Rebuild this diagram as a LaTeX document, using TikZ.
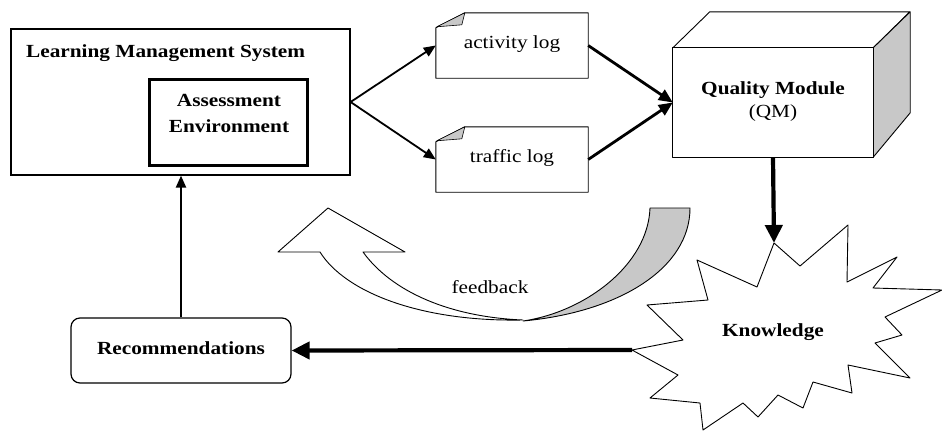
\documentclass[tikz,border=0pt]{standalone}
\usepackage{fontspec}
\setmainfont{Liberation Serif}[FakeStretch=1.15]
\usetikzlibrary{arrows.meta,calc}

\definecolor{shade}{RGB}{200,200,200}

\tikzset{
  txt/.style={font=\fontsize{18.5}{26}\selectfont, inner sep=0pt, align=center},
  btxt/.style={txt, font=\fontsize{18.5}{26}\selectfont\bfseries},
  box/.style={draw, line width=1.2pt, inner sep=0pt},
  outline/.style={draw, line width=0.9pt, line join=round},
  thinarr/.style={line width=1.8pt, -{Triangle[length=12pt,width=10pt]}},
  midarr/.style={line width=2.8pt, -{Triangle[length=14pt,width=12pt]}},
  bigarr/.style={line width=4.2pt, -{Triangle[length=18pt,width=17pt]}},
}

\begin{document}
\begin{tikzpicture}[x=1pt,y=-1pt]
\useasboundingbox (0,0) rectangle (942,434);

% Learning Management System with the assessment environment inside
\node[box, minimum width=339pt, minimum height=146pt] (lms) at (180.5,102) {};
\node[btxt, anchor=base west] (lmstitle) at (26,57) {Learning Management System};
\node[draw, line width=3pt, minimum width=158pt, minimum height=86pt, inner sep=0pt] (ae) at (228.5,122.5) {};
\node[btxt] (aetext) at (229,113) {Assessment\\Environment};

% log documents with folded corner
\foreach \n/\cy/\t in {alog/45.5/activity log, tlog/159.5/traffic log}{
  \node[minimum width=152pt, minimum height=65pt, inner sep=0pt] (\n) at (512,\cy) {};
  \draw[outline, fill=white] (\n.south west) -- ($(\n.north west)+(0,15)$)
     -- ($(\n.north west)+(29,0)$) -- (\n.north east) -- (\n.south east) -- cycle;
  \draw[outline, line width=0.6pt, fill=shade] ($(\n.north west)+(1,14)$)
     -- ($(\n.north west)+(29,0)$) -- ($(\n.north west)+(26,12)$) -- cycle;
  \node[txt] at ($(\n.center)+(0,-1.5)$) {\t};
}

% Quality Module drawn as a box in perspective
\node[minimum width=200pt, minimum height=109pt, inner sep=0pt] (qm) at (773,102.5) {};
\draw[outline, fill=white] (qm.north west) -- ++(37,-36) -- ++(200,0) -- (qm.north east) -- cycle;
\draw[outline, fill=shade] (qm.north east) -- ++(37,-36) -- ++(0,101) -- (qm.south east) -- cycle;
\draw[outline, fill=white] (qm.south west) rectangle (qm.north east);
\node[txt, font=\fontsize{18.5}{23}\selectfont] (qmtext) at (773,102) {\textbf{Quality Module}\\(QM)};

% Knowledge starburst
\draw[outline, fill=white] (774,243) -- (800,266) -- (848,225) -- (847,282) -- (897,257)
  -- (873,288) -- (942,290) -- (885,317) -- (902,335) -- (875,343) -- (910,378)
  -- (848,365) -- (852,393) -- (813,382) -- (803,408) -- (778,395) -- (758,417)
  -- (743,403) -- (703,430) -- (700,403) -- (650,398) -- (678,375) -- (632,350)
  -- (683,340) -- (647,305) -- (708,300) -- (697,260) -- (757,287) -- cycle;
\coordinate (kntop) at (774,243);
\coordinate (knleft) at (632,350);
\node[btxt] (kn) at (773,332) {Knowledge};

% Recommendations
\node[box, rounded corners=9pt, minimum width=220pt, minimum height=65pt] (rec) at (181,350.5) {};
\node[btxt] (rectext) at (181,348) {Recommendations};

% feedback ribbon arrow
\draw[outline, fill=shade] (650,208) -- (690,208)
  .. controls (690,268) and (620,312) .. (523,321)
  .. controls (585,312) and (648,265) .. (650,208) -- cycle;
\draw[outline, fill=white] (523,320)
  .. controls (450,317) and (392,292) .. (363,252) -- (405,252) -- (328,208) -- (278,252) -- (320,252)
  .. controls (345,292) and (420,322) .. (523,320) -- cycle;
\node[txt] (fb) at (490,287) {feedback};

% connectors
\draw[thinarr] (lms.east) -- (alog.west);
\draw[thinarr] (lms.east) -- (tlog.west);
\draw[midarr] (alog.east) -- (qm.west);
\draw[midarr] (tlog.east) -- (qm.west);
\draw[bigarr] (qm.south) -- (kntop);
\draw[bigarr] (knleft) -- (rec.east);
\draw[thinarr, line width=2.2pt] (rec.north) -- (rec.north |- lms.south);
\end{tikzpicture}
\end{document}
